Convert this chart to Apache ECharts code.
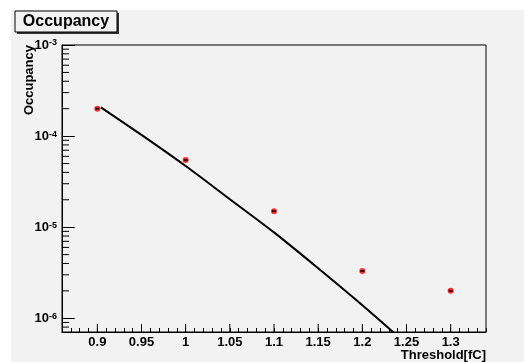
<!DOCTYPE html>
<html>
<head>
<meta charset="utf-8">
<script src="https://cdn.jsdelivr.net/npm/echarts@6/dist/echarts.min.js"></script>
<style>
html,body{margin:0;padding:0;background:#fff;}
#c{width:524px;height:362px;}
</style>
</head>
<body>
<div id="c"></div>
<script>
// ---- data ----
const pointX = [0.9, 1.0, 1.1, 1.2, 1.3];
const pointY = [2.0e-4, 5.45e-5, 1.5e-5, 3.3e-6, 2.0e-6];
const curveX = [0.904, 0.95, 1.0, 1.05, 1.1, 1.15, 1.2, 1.25, 1.3];
const curveY = [2.07e-4, 1.03e-4, 4.69e-5, 2.03e-5, 8.77e-6, 3.54e-6, 1.39e-6, 5.2e-7, 1.8e-7];
const xMajorTicks = [0.9, 0.95, 1.0, 1.05, 1.1, 1.15, 1.2, 1.25, 1.3];
const yMinorTicks = [8e-7, 9e-7,
  2e-6, 3e-6, 4e-6, 5e-6, 6e-6, 7e-6, 8e-6, 9e-6,
  2e-5, 3e-5, 4e-5, 5e-5, 6e-5, 7e-5, 8e-5, 9e-5,
  2e-4, 3e-4, 4e-4, 5e-4, 6e-4, 7e-4, 8e-4, 9e-4];
const X_MIN = 0.86, X_MAX = 1.34;
const Y_MIN = 7.07e-7, Y_MAX = 1e-3;
const titleText = 'Occupancy';
const xTitle = 'Threshold[fC]';
const yTitle = 'Occupancy';

const chart = echarts.init(document.getElementById('c'), null, {renderer: 'canvas'});
const FONT = 'Liberation Sans, Arial, Helvetica, sans-serif';

const option = {
  animation: false,
  backgroundColor: '#ffffff',
  grid: {left: 62, right: 38, top: 45, bottom: 30, show: true, borderColor: '#000', borderWidth: 1, backgroundColor: 'transparent'},
  graphic: [
    {type: 'rect', z: -10, shape: {x: 11, y: 10, width: 513, height: 352}, style: {fill: '#f2f2f2'}},
    {type: 'rect', z: 10, shape: {x: 17, y: 13, width: 102, height: 21}, style: {fill: '#333'}},
    {type: 'rect', z: 11, shape: {x: 15, y: 11, width: 102, height: 21}, style: {fill: '#f2f2f2', stroke: '#000', lineWidth: 1}},
    {type: 'text', z: 12, x: 66, y: 22, style: {text: titleText, font: 'bold 16px ' + FONT, fill: '#000', textAlign: 'center', textVerticalAlign: 'middle'}},
    {type: 'text', z: 12, x: 29, y: 45, rotation: Math.PI / 2, style: {text: yTitle, font: 'bold 13px ' + FONT, fill: '#000', textAlign: 'right', textVerticalAlign: 'middle'}}
  ],
  xAxis: {
    type: 'value', min: X_MIN, max: X_MAX, interval: 0.01,
    name: xTitle, nameLocation: 'end', nameGap: 0,
    nameTextStyle: {fontFamily: FONT, fontWeight: 'bold', fontSize: 13, color: '#000', align: 'right', verticalAlign: 'top', padding: [17, 0, 0, 0]},
    axisLine: {lineStyle: {color: '#000', width: 1}},
    axisTick: {inside: true, length: 4, lineStyle: {color: '#000'}},
    splitLine: {show: false},
    axisLabel: {
      margin: 4, fontFamily: FONT, fontWeight: 'bold', fontSize: 13, color: '#000',
      formatter: function (v) {
        const k = v * 20;
        if (Math.abs(k - Math.round(k)) < 1e-6 && v > 0.87 && v < 1.33) return String(+v.toFixed(2));
        return '';
      }
    }
  },
  yAxis: {
    type: 'log', logBase: 10, min: Y_MIN, max: Y_MAX,
    axisLine: {lineStyle: {color: '#000', width: 1}},
    axisTick: {inside: true, length: 13, lineStyle: {color: '#000'}},
    splitLine: {show: false},
    axisLabel: {
      margin: 5, color: '#000',
      formatter: function (v) {
        const e = Math.log10(v);
        const r = Math.round(e);
        if (Math.abs(e - r) > 1e-6) return '';
        return '{b|10}{s|' + r + '}';
      },
      rich: {
        b: {fontFamily: FONT, fontWeight: 'bold', fontSize: 13, color: '#000', verticalAlign: 'bottom', lineHeight: 13},
        s: {fontFamily: FONT, fontWeight: 'bold', fontSize: 9, color: '#000', verticalAlign: 'top', lineHeight: 9}
      },
      lineHeight: 19
    }
  },
  series: [
    {
      type: 'line', data: curveX.map((x, i) => [x, curveY[i]]),
      showSymbol: false, symbol: 'none', clip: true, smooth: 0.3,
      lineStyle: {color: '#000', width: 2}, z: 3
    },
    {
      type: 'scatter', data: pointX.map((x, i) => [x, pointY[i]]),
      symbol: 'circle', symbolSize: 6, itemStyle: {color: '#ff0000'}, z: 4
    },
    {
      type: 'scatter', data: pointX.map((x, i) => [x, pointY[i]]),
      symbol: 'rect', symbolSize: [4, 2], itemStyle: {color: '#000'}, z: 5
    },
    {
      type: 'custom', clip: true, z: 2,
      data: xMajorTicks.map(v => [v, Y_MIN]),
      renderItem: function (params, api) {
        const p = api.coord([api.value(0), api.value(1)]);
        return {type: 'line', shape: {x1: p[0], y1: p[1], x2: p[0], y2: p[1] - 8}, style: {stroke: '#000', lineWidth: 1}};
      }
    },
    {
      type: 'custom', clip: true, z: 2,
      data: yMinorTicks.map(v => [X_MIN, v]),
      renderItem: function (params, api) {
        const p = api.coord([api.value(0), api.value(1)]);
        return {type: 'line', shape: {x1: p[0], y1: p[1], x2: p[0] + 7, y2: p[1]}, style: {stroke: '#000', lineWidth: 1}};
      }
    }
  ]
};
chart.setOption(option);
</script>
</body>
</html>
